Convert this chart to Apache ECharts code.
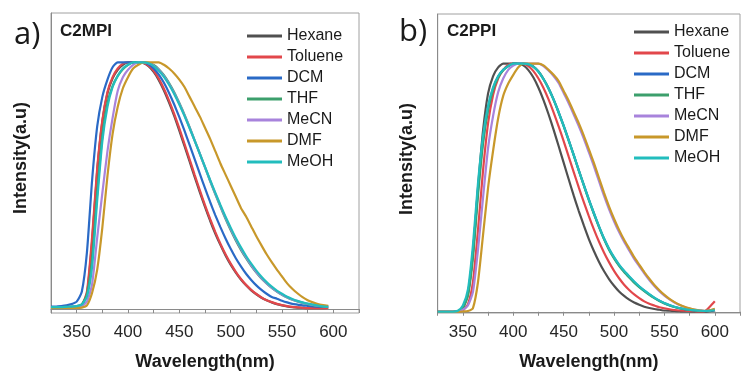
<!DOCTYPE html>
<html>
<head>
<meta charset="utf-8">
<script src="https://cdn.jsdelivr.net/npm/echarts@6/dist/echarts.min.js"></script>
<style>
  html, body { margin: 0; padding: 0; background: #fff; }
  #chart { width: 743px; height: 376px; }
</style>
</head>
<body>
<div id="chart"></div>
<script>
// Normalised emission spectra of C2MPI (a) and C2PPI (b) in seven solvents.
const solvents = ['Hexane', 'Toluene', 'DCM', 'THF', 'MeCN', 'DMF', 'MeOH'];
const colors = ['#505050', '#e2474b', '#2a6ac6', '#3c9f6c', '#a883dc', '#c8982a', '#22bdbd'];
const tickValues = [350, 400, 450, 500, 550, 600];

// Wavelength grids (nm)
const wlA = [];
for (let w = 325; w <= 595; w += 5) wlA.push(w);
const wlB = [];
for (let w = 325; w <= 600; w += 5) wlB.push(w);

// ---- C2MPI intensities (325–595 nm, 5 nm steps) ----
const a_Hexane = [0.006,0.006,0.006,0.006,0.007,0.009,0.016,0.06,0.27,0.56,0.76,0.875,0.935,0.97,0.99,1.0,1.0,1.0,
  0.997,0.984,0.961,0.928,0.886,0.837,0.783,0.723,0.661,0.598,0.535,0.473,0.414,0.358,0.306,0.26,0.217,0.18,0.148,0.12,0.096,0.076,0.06,0.046,0.036,0.027,0.02,0.015,0.011,0.008,0.006,0.005,0.004,0.004,0.004,0.004,0.005];
const a_Toluene = [0.005,0.005,0.005,0.005,0.006,0.008,0.015,0.07,0.29,0.57,0.765,0.88,0.94,0.975,0.995,1.0,1.0,1.0,
  0.998,0.987,0.966,0.934,0.893,0.845,0.791,0.732,0.67,0.607,0.543,0.481,0.421,0.365,0.313,0.265,0.222,0.184,0.151,0.122,0.098,0.078,0.061,0.047,0.036,0.028,0.021,0.016,0.012,0.009,0.007,0.005,0.004,0.004,0.004,0.004,0.005];
const a_DCM = [0.01,0.01,0.012,0.015,0.02,0.03,0.07,0.23,0.52,0.74,0.86,0.93,0.98,1.0,1.0,1.0,1.0,1.0,
  1.0,0.992,0.975,0.95,0.917,0.876,0.829,0.778,0.723,0.665,0.607,0.548,0.49,0.434,0.381,0.332,0.286,0.244,0.206,0.173,0.143,0.118,0.096,0.078,0.062,0.049,0.042,0.034,0.027,0.021,0.018,0.015,0.013,0.011,0.01,0.009,0.01];
const a_THF = [0.008,0.008,0.008,0.009,0.01,0.012,0.02,0.06,0.2,0.47,0.7,0.835,0.905,0.945,0.972,0.99,1.0,1.0,
  1.0,0.998,0.989,0.972,0.948,0.916,0.879,0.835,0.788,0.737,0.683,0.629,0.574,0.519,0.466,0.415,0.366,0.32,0.278,0.24,0.206,0.175,0.148,0.124,0.104,0.086,0.071,0.058,0.047,0.038,0.031,0.025,0.02,0.016,0.013,0.011,0.01];
const a_MeCN = [0.008,0.008,0.008,0.008,0.009,0.01,0.012,0.03,0.1,0.29,0.47,0.64,0.775,0.885,0.94,0.97,0.99,1.0,
  1.0,0.997,0.987,0.969,0.944,0.912,0.875,0.832,0.785,0.735,0.682,0.629,0.575,0.521,0.469,0.418,0.37,0.325,0.283,0.245,0.21,0.178,0.15,0.126,0.105,0.087,0.072,0.059,0.048,0.039,0.032,0.026,0.021,0.017,0.014,0.012,0.011];
const a_DMF = [0.005,0.005,0.005,0.005,0.005,0.005,0.006,0.015,0.065,0.16,0.33,0.54,0.71,0.82,0.895,0.94,0.975,0.99,
  1.0,1.0,1.0,1.0,0.99,0.975,0.955,0.93,0.9,0.86,0.82,0.78,0.735,0.69,0.64,0.59,0.545,0.5,0.455,0.41,0.375,0.335,0.295,0.258,0.222,0.19,0.16,0.132,0.104,0.082,0.064,0.048,0.036,0.027,0.02,0.016,0.013];
const a_MeOH = [0.008,0.008,0.008,0.009,0.01,0.012,0.018,0.05,0.17,0.44,0.68,0.82,0.9,0.945,0.975,0.99,1.0,1.0,
  1.0,0.996,0.985,0.966,0.941,0.909,0.872,0.829,0.783,0.733,0.682,0.629,0.576,0.523,0.472,0.422,0.374,0.33,0.288,0.25,0.215,0.184,0.156,0.131,0.109,0.091,0.075,0.062,0.05,0.041,0.033,0.027,0.022,0.018,0.014,0.011,0.009];

// ---- C2PPI intensities (325–600 nm, 5 nm steps) ----
const b_Hexane = [0,0,0,0,0.002,0.015,0.07,0.24,0.5,0.73,0.88,0.95,0.985,1.0,1.0,1.0,1.0,
  0.993,0.974,0.944,0.903,0.853,0.796,0.734,0.668,0.601,0.534,0.468,0.406,0.348,0.293,0.245,0.202,0.164,0.132,0.105,0.082,0.064,0.049,0.037,0.028,0.02,0.015,0.011,0.008,0.005,0.004,0.003,0.002,0.001,0.001,0,0,0,0.002,0.005];
const b_Toluene = [0,0,0,0,0.001,0.006,0.03,0.12,0.33,0.57,0.76,0.875,0.94,0.975,0.995,1.0,1.0,
  0.999,0.99,0.97,0.94,0.902,0.856,0.804,0.747,0.688,0.625,0.563,0.501,0.442,0.385,0.332,0.283,0.239,0.2,0.165,0.135,0.109,0.088,0.07,0.055,0.042,0.032,0.025,0.018,0.014,0.01,0.007,0.005,0.004,0.003,0.002,0.001,0.002,0.02,0.042];
const b_DCM = [0,0,0,0,0.002,0.018,0.075,0.24,0.49,0.69,0.82,0.9,0.948,0.975,0.99,1.0,1.0,
  1.0,0.998,0.988,0.968,0.938,0.901,0.856,0.805,0.75,0.692,0.632,0.571,0.511,0.453,0.397,0.344,0.295,0.253,0.218,0.188,0.163,0.141,0.12,0.101,0.085,0.07,0.056,0.044,0.034,0.026,0.019,0.014,0.01,0.007,0.005,0.004,0.003,0.004,0.006];
const b_THF = [0,0,0,0,0.002,0.015,0.065,0.22,0.47,0.68,0.815,0.895,0.945,0.973,0.99,1.0,1.0,
  1.0,0.998,0.988,0.968,0.938,0.9,0.855,0.803,0.748,0.69,0.63,0.569,0.509,0.45,0.395,0.342,0.293,0.25,0.215,0.185,0.16,0.138,0.117,0.099,0.083,0.068,0.055,0.043,0.033,0.025,0.019,0.014,0.01,0.007,0.005,0.004,0.004,0.005,0.008];
const b_MeCN = [0,0,0,0,0.001,0.008,0.025,0.08,0.25,0.46,0.66,0.79,0.885,0.94,0.975,0.992,1.0,
  1.0,1.0,1.0,1.0,0.99,0.972,0.95,0.922,0.882,0.84,0.795,0.748,0.698,0.643,0.587,0.527,0.468,0.414,0.365,0.321,0.282,0.247,0.213,0.184,0.155,0.128,0.104,0.083,0.065,0.05,0.037,0.027,0.019,0.013,0.008,0.005,0.003,0.005,0.01];
const b_DMF = [0,0,0,0,0,0.001,0.003,0.015,0.12,0.31,0.5,0.65,0.78,0.87,0.92,0.955,0.985,
  1.0,1.0,1.0,1.0,0.993,0.975,0.955,0.93,0.89,0.85,0.805,0.76,0.71,0.655,0.6,0.54,0.48,0.425,0.375,0.33,0.29,0.255,0.22,0.19,0.16,0.133,0.108,0.087,0.068,0.052,0.039,0.028,0.02,0.014,0.009,0.005,0.003,0.006,0.012];
const b_MeOH = [0,0,0,0,0.004,0.025,0.09,0.27,0.52,0.71,0.83,0.905,0.95,0.975,0.99,1.0,1.0,
  1.0,0.998,0.987,0.967,0.937,0.9,0.855,0.804,0.749,0.691,0.631,0.57,0.51,0.452,0.397,0.345,0.296,0.255,0.22,0.19,0.165,0.143,0.122,0.103,0.086,0.071,0.057,0.045,0.035,0.027,0.02,0.015,0.011,0.008,0.006,0.004,0.003,0.004,0.006];

const panelA = [a_Hexane, a_Toluene, a_DCM, a_THF, a_MeCN, a_DMF, a_MeOH];
const panelB = [b_Hexane, b_Toluene, b_DCM, b_THF, b_MeCN, b_DMF, b_MeOH];

const FONT = '"Liberation Sans", Arial, sans-serif';
const axisGray = '#8a8a8a';

function pairs(wl, vals) {
  return wl.map((w, i) => [w, vals[i]]);
}

function makeX(idx) {
  return {
    type: 'value', gridIndex: idx, min: 325, max: 625, interval: 25,
    axisLine: { show: true, lineStyle: { color: axisGray, width: 1 } },
    axisTick: { show: true, inside: false, length: 4, lineStyle: { color: axisGray } },
    splitLine: { show: false },
    axisLabel: {
      margin: 11, color: '#262626', fontSize: 17, fontFamily: FONT,
      formatter: v => (tickValues.indexOf(v) >= 0 ? String(v) : '')
    },
    name: 'Wavelength(nm)', nameLocation: 'middle', nameGap: 40,
    nameTextStyle: { fontSize: 18, fontWeight: 'bold', color: '#1a1a1a', fontFamily: FONT }
  };
}
function makeY(idx, min) {
  return {
    type: 'value', gridIndex: idx, min: min, max: 1.2,
    axisLine: { show: true, lineStyle: { color: axisGray, width: 1 } },
    axisTick: { show: false }, axisLabel: { show: false }, splitLine: { show: false }
  };
}

const series = [];
solvents.forEach((name, i) => {
  series.push({
    name: name, type: 'line', xAxisIndex: 0, yAxisIndex: 0,
    data: pairs(wlA, panelA[i]), symbol: 'none', smooth: 0.2,
    lineStyle: { color: colors[i], width: 2.2 }, itemStyle: { color: colors[i] }
  });
});
solvents.forEach((name, i) => {
  series.push({
    name: name, type: 'line', xAxisIndex: 1, yAxisIndex: 1,
    data: pairs(wlB, panelB[i]), symbol: 'none', smooth: 0.2,
    lineStyle: { color: colors[i], width: 2.2 }, itemStyle: { color: colors[i] }
  });
});

const legendBase = {
  orient: 'vertical', data: solvents, itemWidth: 35, itemHeight: 3,
  icon: 'rect', itemGap: 5, padding: 0, selectedMode: false,
  textStyle: { fontSize: 16, color: '#1a1a1a', fontFamily: FONT }
};

const chart = echarts.init(document.getElementById('chart'), null, { renderer: 'canvas' });
chart.setOption({
  animation: false,
  backgroundColor: '#ffffff',
  grid: [
    { left: 51, top: 13, width: 308, height: 304, show: true, borderColor: '#a0a0a0', borderWidth: 1, backgroundColor: 'transparent' },
    { left: 437.7, top: 14, width: 308, height: 300, show: true, borderColor: '#a0a0a0', borderWidth: 1, backgroundColor: 'transparent' }
  ],
  xAxis: [makeX(0), makeX(1)],
  yAxis: [makeY(0, -0.016), makeY(1, -0.005)],
  legend: [
    Object.assign({}, legendBase, { left: 247, top: 28 }),
    Object.assign({}, legendBase, { left: 634, top: 24 })
  ],
  graphic: [
    { type: 'text', left: 14, top: 20, style: { text: 'a)', font: '31px "Open Sans", sans-serif', fill: '#1a1a1a' } },
    { type: 'text', left: 60, top: 23, style: { text: 'C2MPI', font: 'bold 17px ' + FONT, fill: '#1a1a1a' } },
    { type: 'text', left: 399, top: 17, style: { text: 'b)', font: '31px "Open Sans", sans-serif', fill: '#1a1a1a' } },
    { type: 'text', left: 447, top: 23, style: { text: 'C2PPI', font: 'bold 17px ' + FONT, fill: '#1a1a1a' } },
    { type: 'text', x: 21, y: 158, rotation: Math.PI / 2,
      style: { text: 'Intensity(a.u)', font: 'bold 18px ' + FONT, fill: '#1a1a1a', align: 'center', verticalAlign: 'middle' } },
    { type: 'text', x: 407, y: 159, rotation: Math.PI / 2,
      style: { text: 'Intensity(a.u)', font: 'bold 18px ' + FONT, fill: '#1a1a1a', align: 'center', verticalAlign: 'middle' } }
  ],
  series: series
});
</script>
</body>
</html>
